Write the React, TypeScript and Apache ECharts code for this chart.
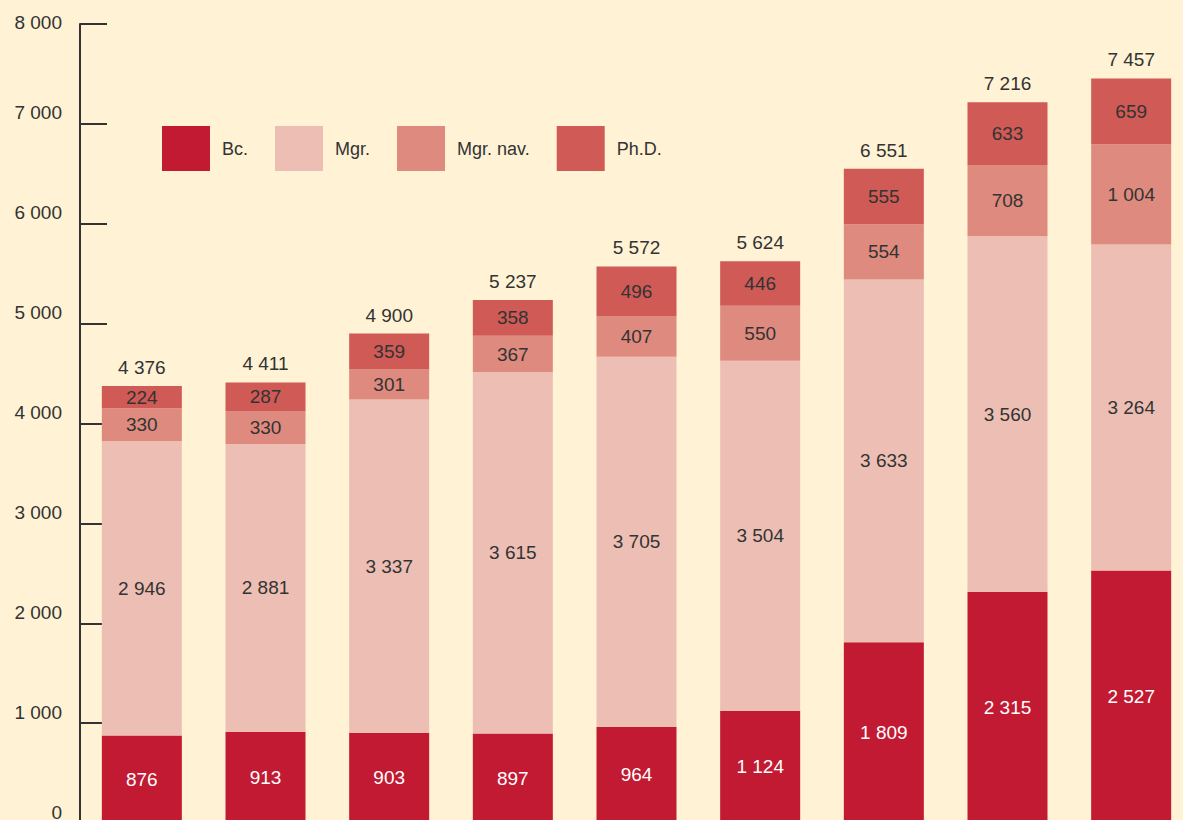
import React, { useEffect, useRef } from "react";
import * as echarts from "echarts";

const categories = ["1", "2", "3", "4", "5", "6", "7", "8", "9"];
const bc = [876, 913, 903, 897, 964, 1124, 1809, 2315, 2527];
const mgr = [2946, 2881, 3337, 3615, 3705, 3504, 3633, 3560, 3264];
const mgrNav = [330, 330, 301, 367, 407, 550, 554, 708, 1004];
const phd = [224, 287, 359, 358, 496, 446, 555, 633, 659];
const totals = [4376, 4411, 4900, 5237, 5572, 5624, 6551, 7216, 7457];

const fmt = (v: number) => String(v).replace(/\B(?=(\d{3})+(?!\d))/g, " ");
const FONT = "'Liberation Sans', Arial, Helvetica, sans-serif";
const TXT = "#333333";

export default function App() {
  const ref = useRef<HTMLDivElement>(null);
  useEffect(() => {
    if (!ref.current) return;
    const chart = echarts.init(ref.current, undefined, { renderer: "svg" });
    const seg = (name: string, data: number[], color: string, labelColor: string) => ({
      name,
      type: "bar",
      stack: "s",
      data,
      barWidth: 80,
      itemStyle: { color },
      label: {
        show: true,
        position: "inside",
        color: labelColor,
        fontSize: 19,
        fontFamily: FONT,
        formatter: (p: any) => fmt(p.value),
      },
    });
    chart.setOption({
      animation: false,
      backgroundColor: "#FFF2D5",
      textStyle: { fontFamily: FONT },
      legend: {
        data: ["Bc.", "Mgr.", "Mgr. nav.", "Ph.D."],
        left: 162,
        top: 126,
        padding: 0,
        itemWidth: 48,
        itemHeight: 45,
        itemGap: 27,
        icon: "rect",
        selectedMode: false,
        textStyle: { fontSize: 18, color: TXT, fontFamily: FONT, padding: [0, 0, 8, 7] },
      },
      grid: { left: 80, right: 0, top: 24, bottom: 0 },
      xAxis: {
        type: "category",
        data: categories,
        axisLine: { show: false },
        axisTick: { show: false },
        axisLabel: { show: false },
      },
      yAxis: {
        type: "value",
        min: 0,
        max: 8000,
        interval: 1000,
        splitLine: { show: false },
        axisLine: { show: true, lineStyle: { color: "#333", width: 2 } },
        axisTick: { show: true, inside: true, length: 27, lineStyle: { color: "#333", width: 2 } },
        axisLabel: {
          margin: 18,
          formatter: (v: number) => (v === 8000 ? `{t|${fmt(v)}}` : `{n|${fmt(v)}}`),
          rich: {
            t: { fontSize: 19, color: TXT, fontFamily: FONT, padding: [0, 0, 4, 0] },
            n: { fontSize: 19, color: TXT, fontFamily: FONT, padding: [0, 0, 22, 0] },
          },
        },
      },
      series: [
        seg("Bc.", bc, "#C11A32", "#FFFFFF"),
        seg("Mgr.", mgr, "#EDBFB4", TXT),
        seg("Mgr. nav.", mgrNav, "#DF8A7E", TXT),
        seg("Ph.D.", phd, "#D05A55", TXT),
        {
          name: "total",
          type: "bar",
          data: totals,
          barWidth: 80,
          barGap: "-100%",
          silent: true,
          z: 1,
          itemStyle: { color: "rgba(0,0,0,0)" },
          label: {
            show: true,
            position: "top",
            distance: 9,
            color: TXT,
            fontSize: 19,
            fontFamily: FONT,
            formatter: (p: any) => fmt(p.value),
          },
        },
      ],
    });
    return () => chart.dispose();
  }, []);
  return (
    <div style={{ position: "absolute", left: 0, top: 0, width: 1183, height: 820, overflow: "hidden" }}>
      <div ref={ref} style={{ width: 1193, height: 823 }} />
    </div>
  );
}
